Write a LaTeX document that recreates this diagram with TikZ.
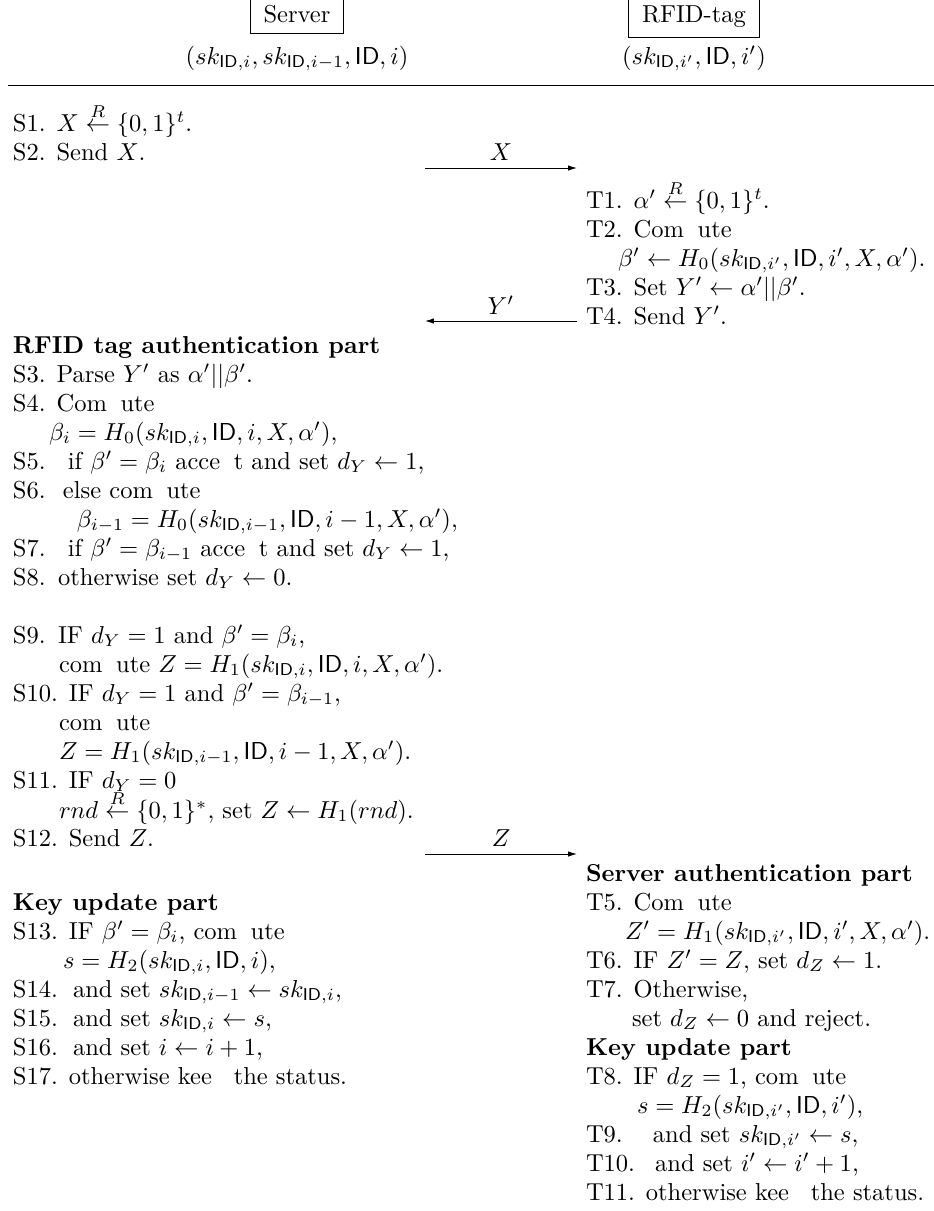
\documentclass[tikz,border=0pt]{standalone}
\usetikzlibrary{arrows.meta}
\newcommand\myID{\mathsf{ID}}
\newcommand\skID[1]{sk_{\myID,#1}}
\newcommand\lb[2]{\makebox[#1pt][l]{#2}}
\begin{document}
\begin{tikzpicture}[x=0.408pt,y=-0.408pt,
  txt/.style={anchor=base west,inner sep=0pt,outer sep=0pt},
  hd/.style={draw,line width=0.4pt,inner xsep=5.5pt,inner ysep=4pt,anchor=base},
  lbl/.style={anchor=base,inner sep=0pt,outer sep=0pt},
  msg/.style={line width=0.4pt,-{Latex[length=3.6pt,width=2.2pt]}}]
\useasboundingbox (0,0) rectangle (934,1211);
% header
\node[hd] (server) at (297,22.7) {Server};
\node[hd] (tag) at (694,22.7) {RFID-tag};
\node[lbl] (servst) at (297,64) {$(\skID{i},\skID{i-1},\myID,i)$};
\node[lbl] (tagst) at (694,64) {$(\skID{i'},\myID,i')$};
\coordinate (rl) at (8,85);
\coordinate (rr) at (934,85);
\draw[line width=0.4pt] (rl) -- (rr);
% messages
\coordinate (xa) at (425,168); \coordinate (xb) at (577,168);
\draw[msg] (xa) -- (xb);
\node[lbl] (xl) at (501,160) {$X$};
\coordinate (ya) at (577,321); \coordinate (yb) at (425,321);
\draw[msg] (ya) -- (yb);
\node[lbl] (yl) at (501,314) {$Y'$};
\coordinate (za) at (425,854); \coordinate (zb) at (577,854);
\draw[msg] (za) -- (zb);
\node[lbl] (zl) at (501,846) {$Z$};
% server column
\node[txt] (s1) at (13,131) {S1. $X\stackrel{R}{\leftarrow}\{0,1\}^t$.};
\node[txt] (s2) at (13,160) {S2. Send $X$.};
\node[txt] (h1) at (13,353) {\textbf{RFID tag authentication part}};
\node[txt] (s3) at (13,382) {S3. Parse $Y'$ as $\alpha'||\beta'$.};
\node[txt] (s4) at (13,411) {S4. Com\hphantom{p}ute};
\node[txt] (s4b) at (49,440) {$\beta_i=H_0(\skID{i},\myID,i,X,\alpha')$,};
\node[txt] (s5) at (13,469) {\lb{22.4}{S5.}if $\beta'=\beta_i$ acce\hphantom{p}t and set $d_Y\leftarrow1$,};
\node[txt] (s6) at (13,498) {\lb{20.4}{S6.}else com\hphantom{p}ute};
\node[txt] (s6b) at (77,527) {$\beta_{i-1}=H_0(\skID{i-1},\myID,i-1,X,\alpha')$,};
\node[txt] (s7) at (13,556) {\lb{22.4}{S7.}if $\beta'=\beta_{i-1}$ acce\hphantom{p}t and set $d_Y\leftarrow1$,};
\node[txt] (s8) at (13,585) {\lb{18.4}{S8.}otherwise set $d_Y\leftarrow0$.};
\node[txt] (s9) at (13,643) {\lb{18.4}{S9.}IF $d_Y=1$ and $\beta'=\beta_i$,};
\node[txt] (s9b) at (59,672) {com\hphantom{p}ute $Z=H_1(\skID{i},\myID,i,X,\alpha')$.};
\node[txt] (s10) at (13,701) {S10. IF $d_Y=1$ and $\beta'=\beta_{i-1}$,};
\node[txt] (s10b) at (59,730) {com\hphantom{p}ute};
\node[txt] (s10c) at (59,759) {$Z=H_1(\skID{i-1},\myID,i-1,X,\alpha')$.};
\node[txt] (s11) at (13,788) {S11. IF $d_Y=0$};
\node[txt] (s11b) at (59,818) {$rnd\stackrel{R}{\leftarrow}\{0,1\}^*$, set $Z\leftarrow H_1(rnd)$.};
\node[txt] (s12) at (13,846) {S12. Send $Z$.};
\node[txt] (h2) at (13,910) {\textbf{Key update part}};
\node[txt] (s13) at (13,939) {S13. IF $\beta'=\beta_i$, com\hphantom{p}ute};
\node[txt] (s13b) at (63,968) {$s=H_2(\skID{i},\myID,i)$,};
\node[txt] (s14) at (13,997) {\lb{24.5}{S14.}and set $\skID{i-1}\leftarrow\skID{i}$,};
\node[txt] (s15) at (13,1026) {\lb{24.5}{S15.}and set $\skID{i}\leftarrow s$,};
\node[txt] (s16) at (13,1055) {\lb{24.5}{S16.}and set $i\leftarrow i+1$,};
\node[txt] (s17) at (13,1084) {S17. otherwise kee\hphantom{p} the status.};
% tag column
\node[txt] (t1) at (586,208) {T1. $\alpha'\stackrel{R}{\leftarrow}\{0,1\}^t$.};
\node[txt] (t2) at (586,237) {T2. Com\hphantom{p}ute};
\node[txt] (t2b) at (618,266) {$\beta'\leftarrow H_0(\skID{i'},\myID,i',X,\alpha')$.};
\node[txt] (t3) at (586,295) {T3. Set $Y'\leftarrow\alpha'||\beta'$.};
\node[txt] (t4) at (586,324) {T4. Send $Y'$.};
\node[txt] (h3) at (586,881) {\textbf{Server authentication part}};
\node[txt] (t5) at (586,910) {T5. Com\hphantom{p}ute};
\node[txt] (t5b) at (625,939) {$Z'=H_1(\skID{i'},\myID,i',X,\alpha')$.};
\node[txt] (t6) at (586,968) {T6. IF $Z'=Z$, set $d_Z\leftarrow1$.};
\node[txt] (t7) at (586,997) {T7. Otherwise,};
\node[txt] (t7b) at (632,1026) {set $d_Z\leftarrow0$ and reject.};
\node[txt] (h4) at (586,1055) {\textbf{Key update part}};
\node[txt] (t8) at (586,1084) {T8. IF $d_Z=1$, com\hphantom{p}ute};
\node[txt] (t8b) at (637,1113) {$s=H_2(\skID{i'},\myID,i')$,};
\node[txt] (t9) at (586,1142) {\lb{27.3}{T9.}and set $\skID{i'}\leftarrow s$,};
\node[txt] (t10) at (586,1171) {\lb{28.2}{T10.}and set $i'\leftarrow i'+1$,};
\node[txt] (t11) at (586,1200) {T11. otherwise kee\hphantom{p} the status.};
\end{tikzpicture}
\end{document}
